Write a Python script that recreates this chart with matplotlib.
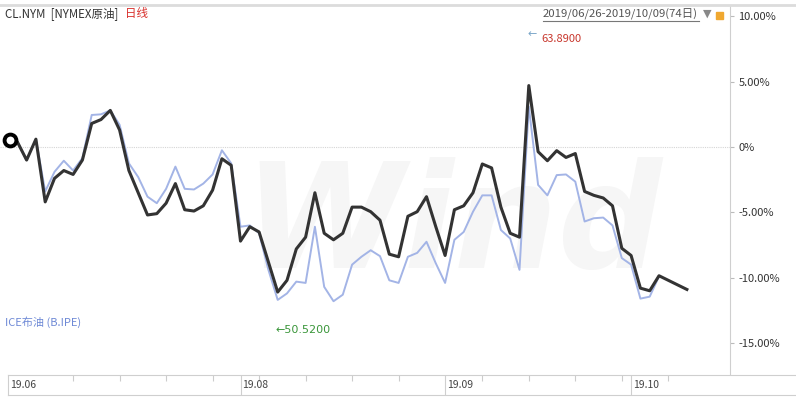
import numpy as np
import pandas as pd
import matplotlib
matplotlib.use("Agg")
import matplotlib.pyplot as plt
import matplotlib.transforms as mtransforms
from matplotlib.patches import Rectangle
from matplotlib.lines import Line2D

plt.rcParams['font.family'] = ['Noto Sans CJK SC', 'DejaVu Sans']

# trading days 2019/06/26 - 2019/10/09 (74 days)
dates = pd.bdate_range("2019-06-26", "2019-10-09")
dates = dates.drop(pd.to_datetime(["2019-07-04", "2019-09-02"]))

# % change since start, NYMEX crude (CL.NYM)
cl_pct = [0.5, 0.4, -1.0, 0.6, -4.2, -2.4, -1.8, -2.1, -1.0, 1.8,
          2.1, 2.8, 1.3, -1.8, -3.5, -5.2, -5.1, -4.3, -2.8, -4.8,
          -4.9, -4.5, -3.3, -0.9, -1.4, -7.2, -6.1, -6.5, -8.8, -11.1,
          -10.2, -7.8, -6.9, -3.5, -6.6, -7.1, -6.6, -4.6, -4.6, -4.95,
          -5.6, -8.2, -8.4, -5.3, -4.95, -3.8, -6.1, -8.3, -4.8, -4.5,
          -3.5, -1.3, -1.6, -4.6, -6.6, -6.9, 4.7, -0.36, -1.05, -0.28,
          -0.8, -0.5, -3.4, -3.7, -3.9, -4.5, -7.75, -8.3, -10.8, -11.0,
          -9.85, -10.2, -10.55, -10.9]

# % change since start, ICE Brent (B.IPE)
brent_pct = [0.5, 0.4, -1.0, 0.6, -3.4, -1.9, -1.05, -1.8, -0.85, 2.45,
             2.5, 2.8, 1.7, -1.25, -2.3, -3.8, -4.3, -3.2, -1.5, -3.2,
             -3.25, -2.8, -2.1, -0.25, -1.25, -6.1, -6.0, -6.6, -9.4, -11.7,
             -11.2, -10.3, -10.4, -6.1, -10.7, -11.8, -11.3, -9.0, -8.4, -7.9,
             -8.35, -10.2, -10.4, -8.4, -8.1, -7.25, -8.9, -10.4, -7.1, -6.5,
             -4.95, -3.7, -3.7, -6.35, -7.0, -9.4, 3.1, -2.9, -3.7, -2.15,
             -2.1, -2.65, -5.7, -5.45, -5.4, -6.0, -8.5, -9.0, -11.6, -11.45,
             -9.9]

month_labels = ["19.06", "19.08", "19.09", "19.10"]
y_ticks = [10, 5, 0, -5, -10, -15]
y_ticklabels = ["10.00%", "5.00%", "0%", "-5.00%", "-10.00%", "-15.00%"]
max_label = "63.8900"
min_label = "50.5200"

W, H = 796, 399
step = 9.3      # px per trading day
ppp = 13.07     # px per percent

def fx(px):
    return px / W

def fy(py):
    return 1 - py / H

fig = plt.figure(figsize=(W / 100, H / 100), dpi=100)

# main plot
ax = fig.add_axes([0, fy(375), fx(730), (375 - 5) / H])
ax.set_xlim(-8 / step, (730 - 8) / step)
ax.set_ylim((147 - 375) / ppp, (147 - 5) / ppp)
for s in ["left", "top", "bottom"]:
    ax.spines[s].set_visible(False)
ax.spines["right"].set_color("#cfcfcf")
ax.set_xticks([])
ax.yaxis.tick_right()
ax.set_yticks(y_ticks)
ax.set_yticklabels(y_ticklabels)
ax.tick_params(axis="y", length=3, color="#bbbbbb", labelsize=8,
               labelcolor="#333333", pad=3)

# watermark
ax.text(445 / step, (147 - 228) / ppp, "Wind", fontsize=105, fontweight="bold",
        style="italic", color="#f6f6f6", ha="center", va="center", zorder=0,
        family="DejaVu Sans")

ax.axhline(0, color="#d5d5d5", lw=0.8, ls=(0, (1, 1)), zorder=1)

ax.plot(np.arange(len(brent_pct)), brent_pct, color="#a3b4e6", lw=1.4, zorder=2)
ax.plot(np.arange(len(cl_pct)), cl_pct, color="#333333", lw=2.2, zorder=3)
ax.plot(0.2, cl_pct[0], "o", mfc="white", mec="black", mew=2.8, ms=8.5, zorder=4)

# max / min markers
i_max = int(np.argmax(cl_pct))
i_min = int(np.argmin(cl_pct))
tr = mtransforms.blended_transform_factory(ax.transData, fig.transFigure)
ax.text(i_max - 0.1, fy(34), "\u2190", color="#7aa6c8", fontsize=8,
        transform=tr, ha="left", va="center", family="DejaVu Sans")
ax.text(i_max + 1.4, fy(39), max_label, color="#c8372d", fontsize=8,
        transform=tr, ha="left", va="center")
ax.text(i_min - 0.2, fy(330), "\u2190" + min_label, color="#3a963a", fontsize=8,
        transform=tr, ha="left", va="center", family=["DejaVu Sans"])

# header texts
fig.text(fx(5), fy(14), "CL.NYM  [NYMEX原油]", fontsize=8.3, color="#333333",
         va="center")
fig.text(fx(125), fy(14), "日线", fontsize=8.3, color="#d9302c", va="center")
fig.text(fx(543), fy(14), "2019/06/26-2019/10/09(74日)", fontsize=8.2,
         color="#555555", va="center")
fig.add_artist(Line2D([fx(543), fx(699)], [fy(21), fy(21)], color="#777777",
                      lw=0.8))
fig.text(fx(703), fy(14), "\u25bc", fontsize=8, color="#888888", va="center",
         family="DejaVu Sans")
fig.add_artist(Rectangle((fx(716), fy(19)), fx(7), 7 / H, color="#f0a830"))
fig.add_artist(Line2D([0, 1], [fy(5), fy(5)], color="#dcdcdc", lw=2))

fig.text(fx(5), fy(322), "ICE布油 (B.IPE)", fontsize=8, color="#6f8ad6",
         va="center")

# bottom date axis
ax2 = fig.add_axes([fx(8), fy(395), fx(W - 8), 20 / H])
ax2.set_xlim(0, (W - 8) / step)
ax2.set_ylim(0, 1)
ax2.spines["right"].set_visible(False)
for s in ["left", "top", "bottom"]:
    ax2.spines[s].set_color("#cfcfcf")
ax2.set_yticks([])

month_start = [0] + [i for i in range(1, len(dates))
                     if dates[i].month != dates[i - 1].month]
shown = [i for i in month_start if dates[i].month != 7]
mondays = [i for i in range(len(dates))
           if dates[i].weekday() == 0 and i not in month_start]
ax2.set_xticks(mondays)
ax2.tick_params(axis="x", direction="in", top=True, bottom=False, length=4,
                color="#cccccc", labelbottom=False)
for i, lab in zip(shown, month_labels):
    if i > 0:
        ax2.axvline(i, color="#cfcfcf", lw=0.8)
    ax2.text(i + 0.2, 0.5, lab, fontsize=7.5, color="#444444", va="center",
             ha="left")

fig.savefig("out.png", dpi=100)
